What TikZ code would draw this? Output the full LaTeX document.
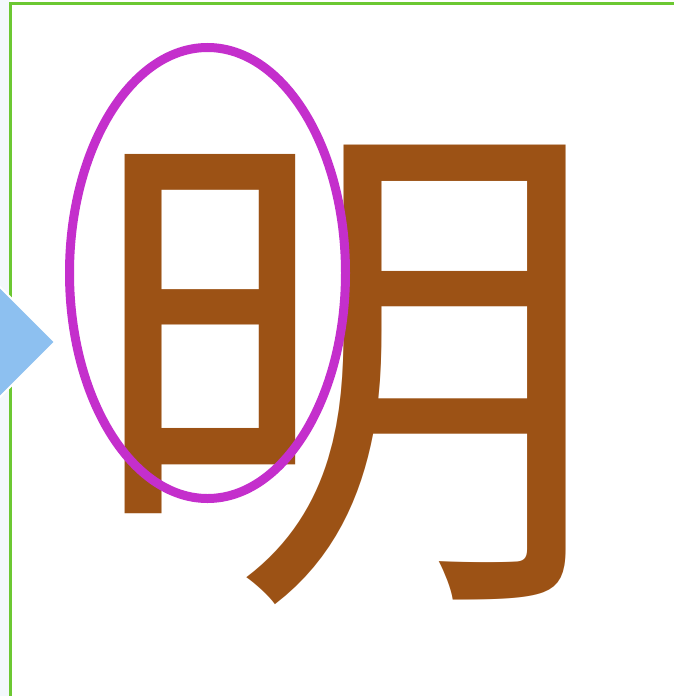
\documentclass[tikz,border=0pt]{standalone}
\usepackage{fontspec}
\usepackage{tikz}
\newfontfamily\cjk{Noto Sans CJK SC}
\definecolor{glyphbrown}{HTML}{9C5215}
\definecolor{ringpink}{HTML}{C42FCC}
\definecolor{framegreen}{HTML}{6CC832}
\definecolor{arrowblue}{HTML}{8DC0F0}
\definecolor{paleblue}{HTML}{F3F8FC}

\begin{document}
\begin{tikzpicture}[x=1pt,y=-1pt,
ring/.style={draw=ringpink,line width=9pt},
pointer/.style={fill=arrowblue,draw=white,line width=2pt}]
\useasboundingbox (0,0) rectangle (674,696);
\fill[paleblue] (0,0) rectangle (10,696);
\fill[white] (10,3) rectangle (674,696);
\draw[framegreen,line width=3pt] (10,696) |- (674,3);
\node (ming) [inner sep=0pt,text=glyphbrown,font=\cjk\fontsize{520}{520}\selectfont] at (343,375) {明};
\coordinate (ri) at (207.5,273);
\draw[ring] (ri) ellipse [x radius=138,y radius=225.5];
\coordinate (tip) at (55,342);
\draw[pointer] (-5,282) -- (tip) -- (-5,402) -- cycle;
\end{tikzpicture}
\end{document}
